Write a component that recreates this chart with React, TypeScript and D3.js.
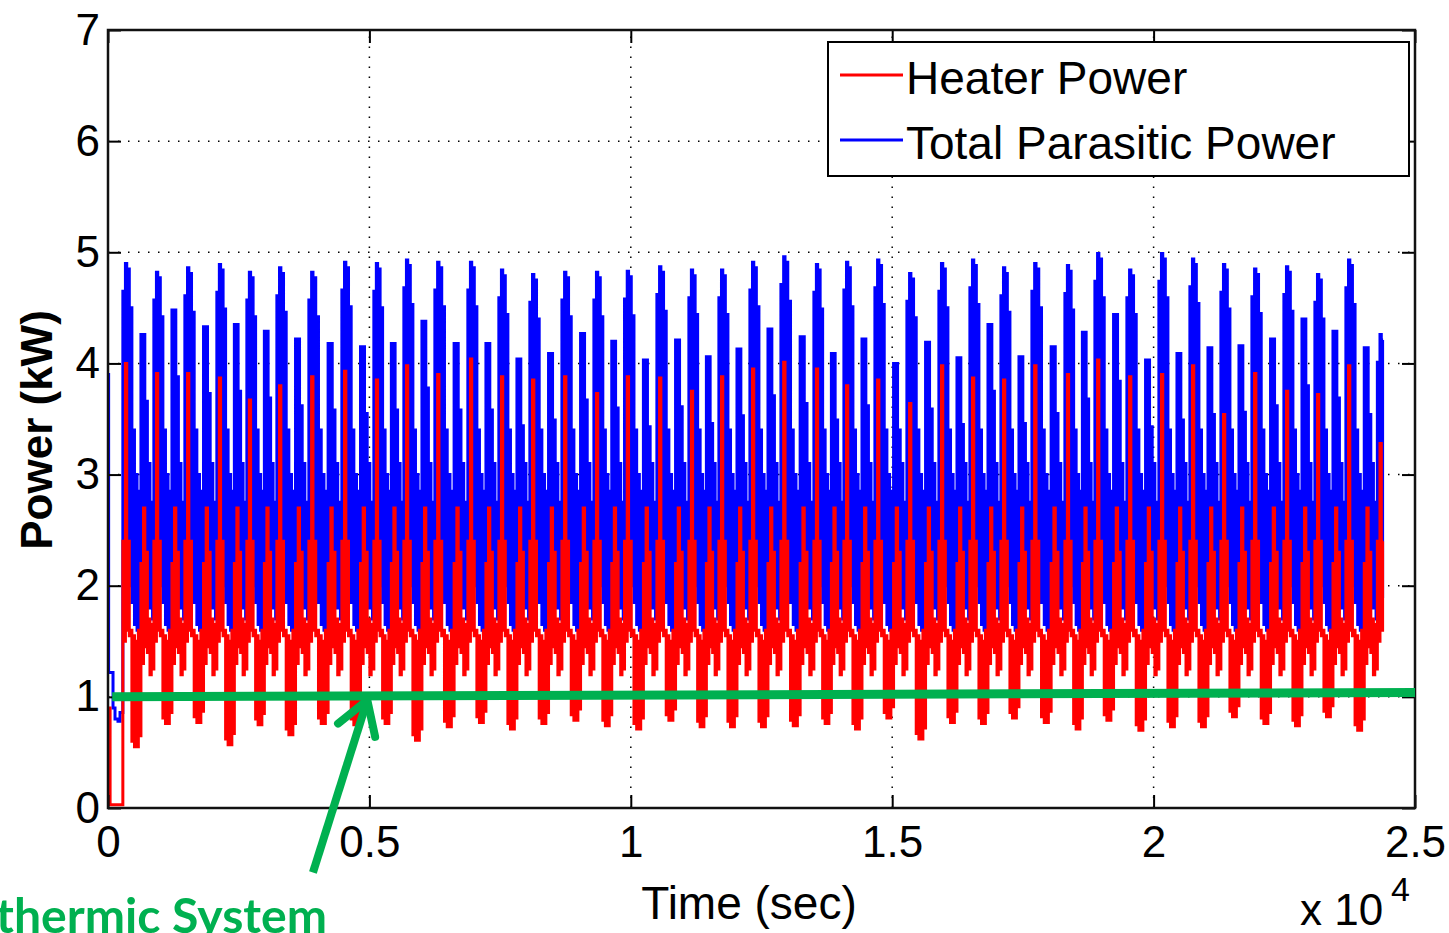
import React, { useRef, useEffect } from 'react';
import * as d3 from 'd3';

// time of each big blue peak (sec)
const cycleTimes = [344, 937, 1530, 2142, 2716, 3290, 3902, 4533, 5145, 5719, 6312, 6943, 7536, 8129, 8742, 9354, 9940, 10559, 11171, 11745, 12338, 12931, 13562, 14136, 14729, 15341, 15953, 16546, 17139, 17732, 18363, 18937, 19549, 20161, 20754, 21347, 21940, 22552, 23145, 23738, 24340];
// total parasitic power: big and small peak of each cycle (kW)
const bluePeaks = [4.90, 4.82, 4.86, 4.89, 4.82, 4.86, 4.82, 4.91, 4.90, 4.93, 4.91, 4.91, 4.84, 4.80, 4.82, 4.82, 4.83, 4.87, 4.84, 4.84, 4.91, 4.96, 4.89, 4.91, 4.93, 4.81, 4.90, 4.93, 4.86, 4.90, 4.88, 4.99, 4.84, 4.99, 4.94, 4.89, 4.85, 4.87, 4.80, 4.93, 4.26];
const blueSmallPeaks = [4.26, 4.48, 4.33, 4.35, 4.29, 4.22, 4.18, 4.15, 4.18, 4.38, 4.18, 4.18, 4.04, 4.09, 4.27, 4.20, 4.03, 4.21, 4.06, 4.13, 4.31, 4.24, 4.09, 4.22, 4.00, 4.19, 4.05, 4.35, 4.06, 4.15, 4.28, 4.44, 4.03, 4.09, 4.14, 4.16, 4.22, 4.40, 4.29, 4.14, 4.10];
// heater power: spike and trough of each cycle (kW)
const redPeaks = [4.00, 3.91, 3.91, 3.87, 3.67, 3.80, 3.88, 3.93, 3.85, 3.98, 3.90, 4.04, 3.88, 3.85, 3.88, 3.73, 3.88, 3.87, 3.75, 3.88, 3.95, 4.01, 3.95, 3.80, 3.85, 3.64, 3.98, 3.87, 3.85, 3.98, 3.90, 4.03, 3.88, 3.90, 3.98, 3.54, 3.91, 3.75, 3.72, 3.98, 3.28];
const redLows = [0.55, 0.76, 0.77, 0.57, 0.75, 0.66, 0.76, 0.75, 0.76, 0.61, 0.73, 0.77, 0.71, 0.76, 0.79, 0.74, 0.71, 0.79, 0.73, 0.73, 0.73, 0.74, 0.76, 0.71, 0.81, 0.62, 0.77, 0.76, 0.81, 0.77, 0.71, 0.79, 0.70, 0.73, 0.73, 0.82, 0.76, 0.74, 0.82, 0.70, 0.75];

// shape of one cycle (12 switching slots), levels read from a typical cycle
const blueTopRef = [4.6, 4.85, 4.8, 4.45, 3.4, 3.0, 2.85, 4.15, 4.15, 3.55, 3.1, 2.75];
const blueTopAnchor = ['big', 'big', 'big', 'big', '', '', '', 'small', 'small', 'small', '', ''];
const blueBottomRef = [1.65, 1.9, 2.0, 1.85, 1.65, 1.6, 1.6, 1.75, 1.85, 1.8, 1.8, 1.7];
const redTopRef = [2.4, 3.9, 2.4, 1.6, 1.55, 1.5, 1.6, 2.2, 2.7, 2.3, 1.7, 1.65];
const redTopAnchor = ['', 'peak', '', '', '', '', '', '', '', '', '', ''];
const redBottomRef = [1.5, 1.6, 1.55, 0.79, 0.74, 0.74, 0.84, 1.3, 1.45, 1.4, 1.2, 1.25];
const redBottomAnchor = ['', '', '', 'low', 'low', 'low', 'low', '', '', '', '', ''];

// start-up transient before the first cycle
const startTimes = [0, 12, 40, 96, 134, 191, 230];
const blueStart = [3.9, 1.22, 1.22, 0.9, 0.8, 0.78, 0.86];
const redStart = [0.9, 0.9, 0.03, 0.03, 0.03, 0.03, 0.03];
const endTime = 24390;

const xTicks = [0, 5000, 10000, 15000, 20000, 25000];
const yTicks = [0, 1, 2, 3, 4, 5, 6, 7];
const legendItems = [
  { label: 'Heater Power', color: '#ff0000' },
  { label: 'Total Parasitic Power', color: '#0000ff' },
];
// green annotation (kW reference level and arrow)
const refLine = [{ t: 80, v: 1.0 }, { t: 25000, v: 1.04 }];
const arrowShaft = [{ t: 3920, v: -0.58 }, { t: 4960, v: 0.97 }];
const arrowHead = [{ t: 4400, v: 0.76 }, { t: 4960, v: 0.97 }, { t: 5110, v: 0.64 }];

function buildSeries(kind) {
  const pts = [];
  const sv = kind === 'blue' ? blueStart : redStart;
  startTimes.forEach((t, i) => pts.push([t, sv[i]]));
  const n = cycleTimes.length;
  cycleTimes.forEach((peakT, k) => {
    const t0 = peakT - 60;
    const t1 = k < n - 1 ? cycleTimes[k + 1] - 60 : endTime;
    const dur = k < n - 1 ? (t1 - t0) / 12 : (cycleTimes[k] - cycleTimes[k - 1]) / 12;
    for (let i = 0; i < 12; i++) {
      const ts = t0 + i * dur;
      if (ts >= t1) break;
      let top, bottom;
      if (kind === 'blue') {
        const a = blueTopAnchor[i];
        top = blueTopRef[i] + (a === 'big' ? bluePeaks[k] - 4.85 : a === 'small' ? blueSmallPeaks[k] - 4.15 : 0);
        bottom = blueBottomRef[i];
      } else {
        top = redTopRef[i] + (redTopAnchor[i] === 'peak' ? redPeaks[k] - 3.9 : 0);
        bottom = redBottomRef[i] + (redBottomAnchor[i] === 'low' ? redLows[k] - 0.74 : 0);
      }
      pts.push([ts, top]);
      if (ts + dur / 2 < t1) pts.push([ts + dur / 2, bottom]);
    }
  });
  pts.push([endTime, pts[pts.length - 1][1]]);
  return pts;
}

function PowerChart() {
  const svgRef = useRef(null);

  useEffect(() => {
    const svg = d3.select(svgRef.current);
    svg.selectAll('*').remove();

    const font = '"Liberation Sans", Arial, Helvetica, sans-serif';
    const x = d3.scaleLinear().domain([0, 25000]).range([108, 1415]);
    const y = d3.scaleLinear().domain([0, 7]).range([808, 30]);
    const [x0, x1] = x.range();
    const [y0, y1] = y.range();

    svg.append('rect').attr('width', 1449).attr('height', 933).attr('fill', '#fff');

    // dotted grid
    svg.append('g').selectAll('line').data(yTicks.slice(1, -1)).join('line')
      .attr('x1', x0).attr('x2', x1).attr('y1', d => y(d)).attr('y2', d => y(d))
      .attr('stroke', '#000').attr('stroke-width', 1.5).attr('stroke-dasharray', '1.5 8.5');
    svg.append('g').selectAll('line').data(xTicks.slice(1, -1)).join('line')
      .attr('y1', y0).attr('y2', y1).attr('x1', d => x(d)).attr('x2', d => x(d))
      .attr('stroke', '#000').attr('stroke-width', 1.5).attr('stroke-dasharray', '1.5 8.5');

    svg.append('clipPath').attr('id', 'plotClip').append('rect')
      .attr('x', x0).attr('y', y1).attr('width', x1 - x0).attr('height', y0 - y1);

    const line = d3.line().x(d => x(d[0])).y(d => y(d[1])).curve(d3.curveStepAfter);
    const plot = svg.append('g').attr('clip-path', 'url(#plotClip)');
    plot.append('path').datum(buildSeries('blue'))
      .attr('fill', 'none').attr('stroke', '#0000ff').attr('stroke-width', 3).attr('d', line);
    plot.append('path').datum(buildSeries('red'))
      .attr('fill', 'none').attr('stroke', '#ff0000').attr('stroke-width', 3).attr('d', line);

    // axes with inward ticks (MATLAB box style)
    const styleAxis = g => {
      g.select('.domain').remove();
      g.selectAll('.tick line').attr('stroke', '#000').attr('stroke-width', 2);
      g.selectAll('.tick text').attr('fill', '#000').style('font-family', font).style('font-size', '44px');
    };
    svg.append('g').attr('transform', `translate(0,${y0})`)
      .call(d3.axisBottom(x).tickValues(xTicks).tickSize(-13).tickPadding(18).tickFormat(d => String(d / 10000)))
      .call(styleAxis);
    svg.append('g').attr('transform', `translate(0,${y1})`)
      .call(d3.axisTop(x).tickValues(xTicks).tickSize(-13).tickFormat(() => ''))
      .call(styleAxis);
    svg.append('g').attr('transform', `translate(${x0},0)`)
      .call(d3.axisLeft(y).tickValues(yTicks).tickSize(-13).tickPadding(8).tickFormat(d3.format('d')))
      .call(styleAxis);
    svg.append('g').attr('transform', `translate(${x1},0)`)
      .call(d3.axisRight(y).tickValues(yTicks).tickSize(-13).tickFormat(() => ''))
      .call(styleAxis);

    svg.append('rect').attr('x', x0).attr('y', y1).attr('width', x1 - x0).attr('height', y0 - y1)
      .attr('fill', 'none').attr('stroke', '#111').attr('stroke-width', 2.5);

    // axis titles
    svg.append('text').attr('x', 749).attr('y', 919).attr('text-anchor', 'middle')
      .style('font-family', font).style('font-size', '46px').text('Time (sec)');
    svg.append('text').attr('transform', 'translate(52,430) rotate(-90)').attr('text-anchor', 'middle')
      .style('font-family', font).style('font-size', '44px').style('font-weight', 'bold').text('Power (kW)');
    const expo = svg.append('text').attr('x', 1300).attr('y', 925)
      .style('font-family', font).style('font-size', '44px');
    expo.append('tspan').text('x 10');
    expo.append('tspan').attr('x', 1391).attr('y', 901).style('font-size', '34px').text('4');

    // legend
    const lg = svg.append('g');
    lg.append('rect').attr('x', 828).attr('y', 42).attr('width', 581).attr('height', 134)
      .attr('fill', '#fff').attr('stroke', '#000').attr('stroke-width', 2);
    legendItems.forEach((item, i) => {
      const ly = 75 + i * 65;
      lg.append('line').attr('x1', 840).attr('x2', 903).attr('y1', ly).attr('y2', ly)
        .attr('stroke', item.color).attr('stroke-width', 3);
      lg.append('text').attr('x', 906).attr('y', ly + 19)
        .style('font-family', font).style('font-size', '46px').text(item.label);
    });

    // green annotation
    const green = '#00b050';
    const gl = d3.line().x(d => x(d.t)).y(d => y(d.v));
    svg.append('path').datum(refLine).attr('d', gl)
      .attr('stroke', green).attr('stroke-width', 9).attr('fill', 'none');
    svg.append('path').datum(arrowShaft).attr('d', gl)
      .attr('stroke', green).attr('stroke-width', 8).attr('fill', 'none');
    svg.append('path').datum(arrowHead).attr('d', gl)
      .attr('stroke', green).attr('stroke-width', 8).attr('fill', 'none')
      .attr('stroke-linecap', 'round').attr('stroke-linejoin', 'round');
    svg.append('text').attr('x', -4).attr('y', 933)
      .attr('textLength', 331).attr('lengthAdjust', 'spacingAndGlyphs')
      .style('font-family', 'Lato, "Open Sans", sans-serif').style('font-weight', 'bold')
      .style('font-size', '48px').attr('fill', green).text('thermic System');
  }, []);

  return <svg ref={svgRef} width={1449} height={933} style={{ position: 'absolute', left: 0, top: 0 }} />;
}

export default function App() {
  return <PowerChart />;
}
